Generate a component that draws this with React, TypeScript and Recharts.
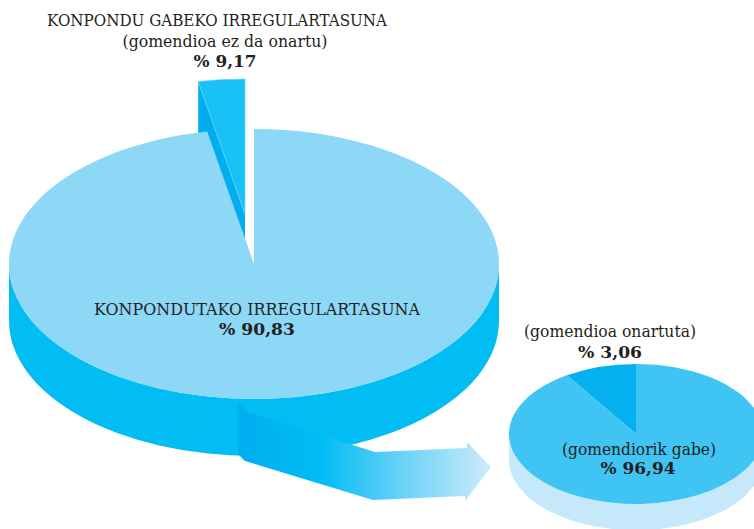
import { Pie, PieChart } from 'recharts';

// Drawn wedge sizes as measured on the picture (11 and 33 degrees).
// The printed percentages are crossed over in the original, so the big pie
// really is drawn with the small pie's numbers and the other way round.
const bigPieNames = ['wedge', 'rest'];
const bigPieShares = [3.06, 96.94];
const smallPieNames = ['wedge', 'rest'];
const smallPieShares = [9.17, 90.83];

const bigPieLabels = [
  'KONPONDU GABEKO IRREGULARTASUNA',
  '(gomendioa ez da onartu)',
  '% 9,17',
  'KONPONDUTAKO IRREGULARTASUNA',
  '% 90,83',
];
const smallPieLabels = [
  '(gomendioa onartuta)',
  '% 3,06',
  '(gomendiorik gabe)',
  '% 96,94',
];

const bigPie = bigPieNames.map((name, i) => ({ name, value: bigPieShares[i] }));
const smallPie = smallPieNames.map((name, i) => ({ name, value: smallPieShares[i] }));

const SQUASH = 0.551;
const BIG_DEPTH = 57;
const SMALL_DEPTH = 26;
const INK = '#231f20';
const SERIF = '"DejaVu Serif", serif';

const point = (cx: number, cy: number, r: number, deg: number) => {
  const a = (deg * Math.PI) / 180;
  return [cx + r * Math.cos(a), cy - r * SQUASH * Math.sin(a)];
};

const topPath = (cx: number, cy: number, r: number, start: number, end: number) => {
  const [x0, y0] = point(cx, cy, r, start);
  const [x1, y1] = point(cx, cy, r, end);
  const large = end - start > 180 ? 1 : 0;
  return `M${cx},${cy} L${x0},${y0} A${r},${r * SQUASH} 0 ${large} 0 ${x1},${y1} Z`;
};

// front wall of a pie: lower half of the rim, pushed down by depth
const wallPath = (cx: number, cy: number, r: number, depth: number) => {
  const ry = r * SQUASH;
  return `M${cx - r},${cy} A${r},${ry} 0 0 0 ${cx + r},${cy} L${cx + r},${cy + depth} A${r},${ry} 0 0 1 ${cx - r},${cy + depth} Z`;
};

const topShape = (wedgeFill: string, restFill: string) => (props: any) => {
  const { cx, cy, outerRadius, startAngle, endAngle, name } = props;
  return (
    <path
      d={topPath(cx, cy, outerRadius, startAngle, endAngle)}
      fill={name === 'wedge' ? wedgeFill : restFill}
    />
  );
};

const restOnly = (fill: string) => (props: any) => {
  const { cx, cy, outerRadius, startAngle, endAngle, name } = props;
  if (name === 'wedge') return <g />;
  return <path d={topPath(cx, cy, outerRadius, startAngle, endAngle)} fill={fill} />;
};

const wallShape = (fill: string, depth: number) => (props: any) => {
  const { cx, cy, outerRadius, name } = props;
  if (name === 'wedge') return <g />;
  return <path d={wallPath(cx, cy, outerRadius, depth)} fill={fill} />;
};

// the slice pulled out of the big pie, with its cut face
const pulledWedge = (props: any) => {
  const { cx, cy, outerRadius, endAngle, startAngle, name } = props;
  if (name !== 'wedge') return <g />;
  const [x, y] = point(cx, cy, outerRadius, endAngle);
  return (
    <g>
      <path
        d={`M${cx},${cy} L${x},${y} L${x},${y + BIG_DEPTH} L${cx},${cy + BIG_DEPTH} Z`}
        fill="#00aeef"
      />
      <path
        d={topPath(cx, cy, outerRadius, startAngle, endAngle)}
        fill="#18c1f6"
        stroke="#6fd3f8"
        strokeWidth={0.6}
      />
    </g>
  );
};

const Label = ({
  x,
  y,
  width,
  bold,
  children,
}: {
  x: number;
  y: number;
  width: number;
  bold?: boolean;
  children: string;
}) => (
  <text
    x={x}
    y={y}
    textAnchor="middle"
    fontFamily={SERIF}
    fontSize={17}
    fontWeight={bold ? 700 : 400}
    fill={INK}
    textLength={width}
    lengthAdjust="spacingAndGlyphs"
  >
    {children}
  </text>
);

export default function App() {
  const pieProps = {
    dataKey: 'value',
    nameKey: 'name',
    startAngle: 90,
    endAngle: 450,
    stroke: 'none',
    isAnimationActive: false,
    legendType: 'none' as const,
    rootTabIndex: -1,
  };
  return (
    <div style={{ position: 'absolute', left: 0, top: 0, width: 754, height: 529, overflow: 'hidden' }}>
      <PieChart width={754} height={529} margin={{ top: 0, right: 0, bottom: 0, left: 0 }}>
        <Pie {...pieProps} data={bigPie} cx={245} cy={214} outerRadius={245} shape={pulledWedge} />
        <Pie {...pieProps} data={bigPie} cx={254} cy={264} outerRadius={245} shape={wallShape('#02bcf4', BIG_DEPTH)} />
        <Pie {...pieProps} data={bigPie} cx={254} cy={264} outerRadius={245} shape={restOnly('#8dd7f7')} />
        <Pie {...pieProps} data={smallPie} cx={636} cy={434} outerRadius={127} shape={wallShape('#c5e9fb', SMALL_DEPTH)} />
        <Pie {...pieProps} data={smallPie} cx={636} cy={434} outerRadius={127} shape={topShape('#05b0ee', '#40c4f4')} />
      </PieChart>

      {/* pies sit on their own top layer in the chart, so arrow and labels go in an overlay */}
      <svg width={754} height={529} style={{ position: 'absolute', left: 0, top: 0 }}>
        <defs>
          <linearGradient id="arrowFill" gradientUnits="userSpaceOnUse" x1={238} y1={0} x2={491} y2={0}>
            <stop offset="0" stopColor="#00aeef" />
            <stop offset="0.33" stopColor="#00bcf4" />
            <stop offset="0.65" stopColor="#6bd2f7" />
            <stop offset="1" stopColor="#cdebfb" />
          </linearGradient>
        </defs>
        <path
          d="M238,402 L247,412 L375,452 L467,448 L467,442 L491,467 L465,501 L465,496 L373,500 L245,461 L238,454 Z"
          fill="url(#arrowFill)"
        />
        <Label x={217} y={26} width={340}>{bigPieLabels[0]}</Label>
        <Label x={225} y={47} width={205}>{bigPieLabels[1]}</Label>
        <Label x={225} y={67} width={63} bold>{bigPieLabels[2]}</Label>
        <Label x={257} y={315} width={326}>{bigPieLabels[3]}</Label>
        <Label x={257} y={335} width={76} bold>{bigPieLabels[4]}</Label>
        <Label x={610} y={337} width={172}>{smallPieLabels[0]}</Label>
        <Label x={610} y={358} width={64} bold>{smallPieLabels[1]}</Label>
        <Label x={639} y={455} width={154}>{smallPieLabels[2]}</Label>
        <Label x={638} y={474} width={75} bold>{smallPieLabels[3]}</Label>
      </svg>
    </div>
  );
}
